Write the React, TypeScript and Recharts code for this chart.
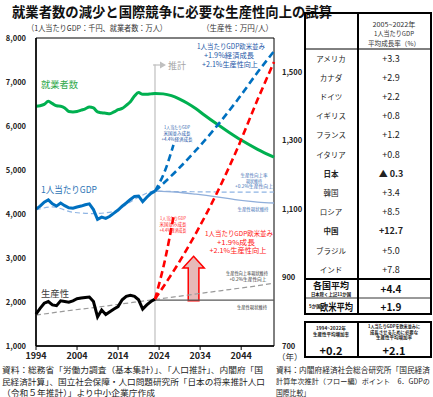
import React from 'react';
import { LineChart, Line, XAxis, YAxis, ReferenceLine, ReferenceArea } from 'recharts';

const FONT = '"Noto Sans CJK JP", "Noto Sans", sans-serif';

// 実績（1994〜2023）
const histYears = [
  1994, 1995, 1996, 1997, 1998, 1999, 2000, 2001, 2002, 2003, 2004, 2005, 2006, 2007, 2008,
  2009, 2010, 2011, 2012, 2013, 2014, 2015, 2016, 2017, 2018, 2019, 2020, 2021, 2022, 2023,
];
const employed = [
  6450, 6460, 6490, 6560, 6510, 6460, 6450, 6410, 6330, 6320, 6330, 6360, 6390, 6430, 6410,
  6320, 6300, 6290, 6280, 6320, 6370, 6400, 6470, 6550, 6680, 6760, 6720, 6720, 6730, 6740,
];
const gdpPerCapita = [
  4110, 4180, 4270, 4320, 4230, 4180, 4250, 4190, 4140, 4130, 4160, 4180, 4210, 4230, 4100,
  3880, 3930, 3900, 3950, 4020, 4090, 4180, 4250, 4330, 4400, 4410, 4280, 4380, 4470, 4520,
];
const productivity = [
  793, 810, 825, 830, 820, 818, 832, 830, 828, 832, 838, 840, 842, 843, 830,
  785, 805, 792, 800, 808, 815, 835, 845, 848, 845, 835, 808, 820, 830, 837,
];

// 就業者数の推計
const empProjYears = [2023, 2025, 2027, 2029, 2031, 2033, 2035, 2038, 2041, 2044, 2048, 2052];
const empProj = [6740, 6730, 6690, 6610, 6510, 6390, 6250, 6050, 5860, 5680, 5470, 5290];

// 趨勢線（実績期間）
const trendYears = [1994, 1998, 2003, 2008, 2013, 2018, 2023];
const gdpTrendHist = [4090, 4160, 4040, 4010, 4060, 4330, 4520];
const prodTrendHist = [790, 797, 805, 812, 820, 828, 836];

// 推計シナリオ
const projYears = [2023, 2028, 2033, 2038, 2043, 2048, 2052];
const gdpWest = [4520, 4960, 5450, 5990, 6580, 7220, 7700];
const gdpFlat = [4520, 4500, 4450, 4390, 4320, 4270, 4250];
const gdpTrendFuture = [4520, 4510, 4505, 4500, 4495, 4495, 4500];
const prodWest = [837, 928, 1030, 1145, 1275, 1420, 1530];
const prodFlat = [834, 834, 834, 834, 834, 834, 834];
const prodTrendFuture = [836, 844, 852, 860, 868, 876, 884];

const usYears = [2023, 2025.5, 2027.5];
const gdpUS = [4520, 5000, 5570];
const prodUS = [837, 955, 1077];

const xTicks = [1994, 2004, 2014, 2024, 2034, 2044];
const leftTicks = [1000, 2000, 3000, 4000, 5000, 6000, 7000, 8000];
const rightTicks = [700, 900, 1100, 1300, 1500];

// 右表
const countries = ['アメリカ', 'カナダ', 'ドイツ', 'イギリス', 'フランス', 'イタリア', '日本', '韓国', 'ロシア', '中国', 'ブラジル', 'インド'];
const growthRates = ['+3.3', '+2.9', '+2.2', '+0.8', '+1.2', '+0.8', '▲ 0.3', '+3.4', '+8.5', '+12.7', '+5.0', '+7.8'];
const boldCountries = ['日本', '中国'];

function buildRows() {
  const map = new Map<number, any>();
  const put = (ys: number[], vs: number[], key: string) =>
    ys.forEach((y, i) => {
      const r = map.get(y) ?? { year: y };
      r[key] = vs[i];
      map.set(y, r);
    });
  put(histYears, employed, 'emp');
  put(empProjYears, empProj, 'emp');
  put(histYears, gdpPerCapita, 'gdp');
  put(histYears, productivity, 'prod');
  put(trendYears, gdpTrendHist, 'gdpTrend');
  put(projYears, gdpTrendFuture, 'gdpTrend');
  put(trendYears, prodTrendHist, 'prodTrend');
  put(projYears, prodTrendFuture, 'prodTrend');
  put(projYears, gdpWest, 'gdpWest');
  put(projYears, gdpFlat, 'gdpFlat');
  put(projYears, prodWest, 'prodWest');
  put(projYears, prodFlat, 'prodFlat');
  put(usYears, gdpUS, 'gdpUS');
  put(usYears, prodUS, 'prodUS');
  return [...map.values()].sort((a, b) => a.year - b.year);
}

const data = buildRows();

const UpArrow = (p: any) => {
  const { x, y, width, height } = p;
  const cx = x + width / 2;
  const sw = width * 0.5;
  const hh = height * 0.26;
  const d = `M${cx},${y} L${x + width},${y + hh} L${cx + sw / 2},${y + hh} L${cx + sw / 2},${y + height} L${cx - sw / 2},${y + height} L${cx - sw / 2},${y + hh} L${x},${y + hh} Z`;
  return <path d={d} fill="#E6B9B8" stroke="#FF0000" strokeWidth={1.5} />;
};

const T = ({ x, y, s, c = '#222', w, a = 'start', b = false, children }: any) => (
  <text
    x={x}
    y={y}
    fontSize={s}
    fill={c}
    textAnchor={a}
    dominantBaseline="central"
    fontWeight={b ? 'bold' : 'normal'}
    textLength={w}
    lengthAdjust={w ? 'spacingAndGlyphs' : undefined}
  >
    {children}
  </text>
);

const fmt = (v: number) => v.toLocaleString('en-US');

export default function App() {
  const blue = '#0070C0';
  const red = '#FF0000';
  return (
    <div style={{ position: 'absolute', left: 0, top: 0, width: 433, height: 397, background: '#fff', fontFamily: FONT, overflow: 'hidden' }}>
      <div style={{ position: 'absolute', left: 0, top: 0 }}>
        <LineChart width={310} height={366} data={data} margin={{ top: 38, right: 6, bottom: 0, left: 0 }}>
          <XAxis
            dataKey="year"
            type="number"
            domain={[1994, 2052]}
            ticks={xTicks}
            height={20}
            axisLine={{ stroke: '#000', strokeWidth: 1.5 }}
            tickLine={{ stroke: '#000' }}
            tickSize={4}
            tickMargin={3}
            tick={{ fontSize: 9, fontWeight: 'bold', fill: '#222', fontFamily: FONT }}
          />
          <YAxis
            yAxisId="left"
            domain={[1000, 8000]}
            ticks={leftTicks}
            width={36}
            axisLine={{ stroke: '#000', strokeWidth: 1.5 }}
            tickLine={false}
            tickSize={0}
            tickMargin={10}
            tickFormatter={fmt}
            tick={{ fontSize: 7.5, fontWeight: 600, fill: '#222', fontFamily: FONT }}
          />
          <YAxis
            yAxisId="right"
            orientation="right"
            domain={[700, 1600]}
            ticks={rightTicks}
            width={30}
            axisLine={false}
            tickLine={false}
            tickSize={0}
            tickMargin={8}
            tickFormatter={fmt}
            tick={{ fontSize: 7.5, fontWeight: 600, fill: '#222', fontFamily: FONT }}
          />
          <ReferenceArea yAxisId="left" x1={1994} x2={2052} y1={1000} y2={8000} fill="none" stroke="#000" strokeWidth={1} />
          <ReferenceLine
            yAxisId="left"
            segment={[{ x: 2023, y: 1000 }, { x: 2023, y: 7400 }]}
            stroke="#BFBFBF"
            strokeWidth={1.2}
          />
          <ReferenceArea yAxisId="right" x1={2029.8} x2={2035} y1={832} y2={962} shape={UpArrow} />

          {/* 趨勢線・現状維持 */}
          <Line yAxisId="left" dataKey="gdpTrend" type="monotone" stroke="#8EB4E3" strokeWidth={1.2} strokeDasharray="5 3" dot={false} connectNulls isAnimationActive={false} />
          <Line yAxisId="left" dataKey="gdpFlat" type="monotone" stroke="#8FAEDA" strokeWidth={1.3} dot={false} connectNulls isAnimationActive={false} />
          <Line yAxisId="right" dataKey="prodTrend" type="monotone" stroke="#9A9A9A" strokeWidth={1.2} strokeDasharray="5 3" dot={false} connectNulls isAnimationActive={false} />
          <Line yAxisId="right" dataKey="prodFlat" type="linear" stroke="#595959" strokeWidth={1.2} dot={false} connectNulls isAnimationActive={false} />

          {/* 実績 */}
          <Line yAxisId="left" dataKey="emp" type="monotone" stroke="#00B050" strokeWidth={3} dot={false} connectNulls isAnimationActive={false} />
          <Line yAxisId="left" dataKey="gdp" type="linear" stroke={blue} strokeWidth={3} dot={false} connectNulls isAnimationActive={false} />
          <Line yAxisId="right" dataKey="prod" type="linear" stroke="#000" strokeWidth={3} dot={false} connectNulls isAnimationActive={false} />

          {/* 推計シナリオ */}
          <Line yAxisId="left" dataKey="gdpUS" type="monotone" stroke={blue} strokeWidth={2.6} strokeDasharray="7 4" dot={false} connectNulls isAnimationActive={false} />
          <Line yAxisId="left" dataKey="gdpWest" type="monotone" stroke={blue} strokeWidth={2.6} strokeDasharray="7 4" dot={false} connectNulls isAnimationActive={false} />
          <Line yAxisId="right" dataKey="prodUS" type="monotone" stroke={red} strokeWidth={2.6} strokeDasharray="7 4" dot={false} connectNulls isAnimationActive={false} />
          <Line yAxisId="right" dataKey="prodWest" type="monotone" stroke={red} strokeWidth={2.6} strokeDasharray="7 4" dot={false} connectNulls isAnimationActive={false} />
        </LineChart>
      </div>

      <svg width={433} height={397} style={{ position: 'absolute', left: 0, top: 0, pointerEvents: 'none', fontFamily: FONT }}>
        {/* タイトル */}
        <T x={12} y={11} s={14} b c="#111" w={320}>就業者数の減少と国際競争に必要な生産性向上の試算</T>
        <T x={27} y={27} s={8} c="#333" w={140}>（1人当たりGDP：千円、就業者数：万人）</T>
        <T x={202} y={27} s={8} c="#333" w={71}>（生産性：万円/人）</T>

        {/* 推計 */}
        <line x1={153} y1={65} x2={160} y2={65} stroke="#BFBFBF" strokeWidth={1.2} />
        <path d="M160,61.5 L166,65 L160,68.5 Z" fill="#BFBFBF" />
        <T x={168} y={65} s={9} c="#A6A6A6">推計</T>

        {/* 系列名 */}
        <T x={41} y={84} s={9.5} c="#2EA84A" w={37}>就業者数</T>
        <T x={41} y={189} s={9.5} c="#2E75B6" w={56}>1人当たりGDP</T>
        <T x={41} y={293} s={9.5} c="#404040" w={28}>生産性</T>

        {/* 青注記 */}
        <T x={231} y={46} s={7} c="#2557A7" a="middle" w={68}>1人当たりGDP欧米並み</T>
        <T x={229} y={55} s={7} c="#2557A7" a="middle" w={50}>+1.9%経済成長</T>
        <T x={230} y={63.5} s={7} c="#2557A7" a="middle" w={56}>+2.1%生産性向上</T>
        <T x={177} y={127} s={4.6} c="#2557A7" a="middle" w={26}>1人当たりGDP</T>
        <T x={177} y={133} s={4.6} c="#2557A7" a="middle" w={27}>米国並み成長</T>
        <T x={177} y={139} s={4.6} c="#2557A7" a="middle" w={31}>+4.4%経済成長</T>
        <T x={254} y={175} s={4.6} c="#3C6FB5" a="middle" w={27}>生産性向上率</T>
        <T x={254} y={180.5} s={4.6} c="#3C6FB5" a="middle" w={16}>現状維持</T>
        <T x={254} y={186} s={4.6} c="#3C6FB5" a="middle" w={38}>+0.2%生産性向上</T>
        <T x={253} y={209} s={4.6} c="#3C6FB5" a="middle" w={31}>生産性現状維持</T>

        {/* 赤注記 */}
        <T x={173} y={218} s={4.6} c="#FF2020" a="middle" w={26}>1人当たりGDP</T>
        <T x={173} y={224} s={4.6} c="#FF2020" a="middle" w={27}>米国並み成長</T>
        <T x={173} y={230} s={4.6} c="#FF2020" a="middle" w={27}>+4.4%経済成長</T>
        <T x={239} y={233} s={6.8} c="#FF2020" a="middle" w={68}>1人当たりGDP欧米並み</T>
        <T x={236} y={241.5} s={6.8} c="#FF2020" a="middle" w={38}>+1.9%成長</T>
        <T x={238} y={250} s={6.8} c="#FF2020" a="middle" w={57}>+2.1%生産性向上</T>
        <T x={247} y={273} s={4.6} c="#333" a="middle" w={42}>生産性向上率現状維持</T>
        <T x={248} y={279} s={4.6} c="#333" a="middle" w={37}>+0.2%生産性向上</T>
        <T x={252} y={307} s={4.6} c="#333" a="middle" w={30}>生産性現状維持</T>

        <T x={277} y={356} s={8.5} c="#333">（年）</T>

        {/* 右表 */}
        <rect x={305} y={13} width={126} height={301} fill="none" stroke="#000" strokeWidth={2} />
        <line x1={358} y1={13} x2={358} y2={314} stroke="#000" strokeWidth={2} />
        <line x1={305} y1={49} x2={431} y2={49} stroke="#000" strokeWidth={1} />
        <line x1={305} y1={279} x2={431} y2={279} stroke="#000" strokeWidth={2} />
        <line x1={305} y1={298} x2={431} y2={298} stroke="#000" strokeWidth={0.8} />
        <T x={394} y={24} s={6.5} c="#333" a="middle" w={43}>2005~2022年</T>
        <T x={394} y={33} s={6.5} c="#333" a="middle" w={40}>1人当たりGDP</T>
        <T x={394} y={43} s={6.5} c="#333" a="middle" w={52}>平均成長率（%）</T>
        {countries.map((c, i) => {
          const y = 58 + i * 19.2;
          const b = boldCountries.includes(c);
          return (
            <g key={c}>
              <T x={331} y={y} s={7.5} c="#222" a="middle" b={b}>{c}</T>
              <T x={391} y={y} s={9} c="#222" a="middle" b={b}>{growthRates[i]}</T>
            </g>
          );
        })}
        <T x={331} y={285} s={9} b c="#111" a="middle">各国平均</T>
        <T x={331} y={293.5} s={4.2} b c="#111" a="middle" w={40}>日本除く上記11か国</T>
        <T x={391} y={288} s={10} b c="#111" a="middle">+4.4</T>
        <T x={309} y={306} s={4.5} b c="#111">5か国</T>
        <T x={320} y={306} s={10} b c="#111" w={33}>欧米平均</T>
        <T x={391} y={306} s={10} b c="#111" a="middle">+1.9</T>

        <rect x={305} y={322} width={126} height={35} fill="none" stroke="#000" strokeWidth={2} />
        <line x1={358} y1={322} x2={358} y2={357} stroke="#000" strokeWidth={2} />
        <T x={331} y={327.5} s={4.8} b c="#222" a="middle" w={30}>1994~2022年</T>
        <T x={331} y={333.5} s={4.8} b c="#222" a="middle" w={36}>生産性平均増加率</T>
        <T x={331} y={350} s={11} b c="#111" a="middle">+0.2</T>
        <T x={394} y={326} s={4.3} b c="#222" a="middle" w={52}>1人当たりGDPを欧米並みに</T>
        <T x={394} y={331.5} s={4.3} b c="#222" a="middle" w={48}>成長させるために必要な</T>
        <T x={394} y={337} s={4.3} b c="#222" a="middle" w={36}>生産性平均増加率</T>
        <T x={394} y={350} s={11} b c="#111" a="middle">+2.1</T>

        {/* 資料 */}
        <T x={2} y={369} s={8.5} c="#222" w={261}>資料：総務省「労働力調査（基本集計）」、「人口推計」、内閣府「国</T>
        <T x={2} y={381} s={8.5} c="#222" w={263}>民経済計算」、国立社会保障・人口問題研究所「日本の将来推計人口</T>
        <T x={2} y={392} s={8.5} c="#222" w={153}>（令和５年推計）」より中小企業庁作成</T>
        <T x={276} y={369} s={7.6} c="#222" w={154}>資料：内閣府経済社会総合研究所「国民経済</T>
        <T x={276} y={381} s={7.2} c="#222" w={154}>計算年次推計（フロー編）ポイント　6．GDPの</T>
        <T x={276} y={392} s={7.6} c="#222" w={34}>国際比較」</T>
      </svg>
    </div>
  );
}
